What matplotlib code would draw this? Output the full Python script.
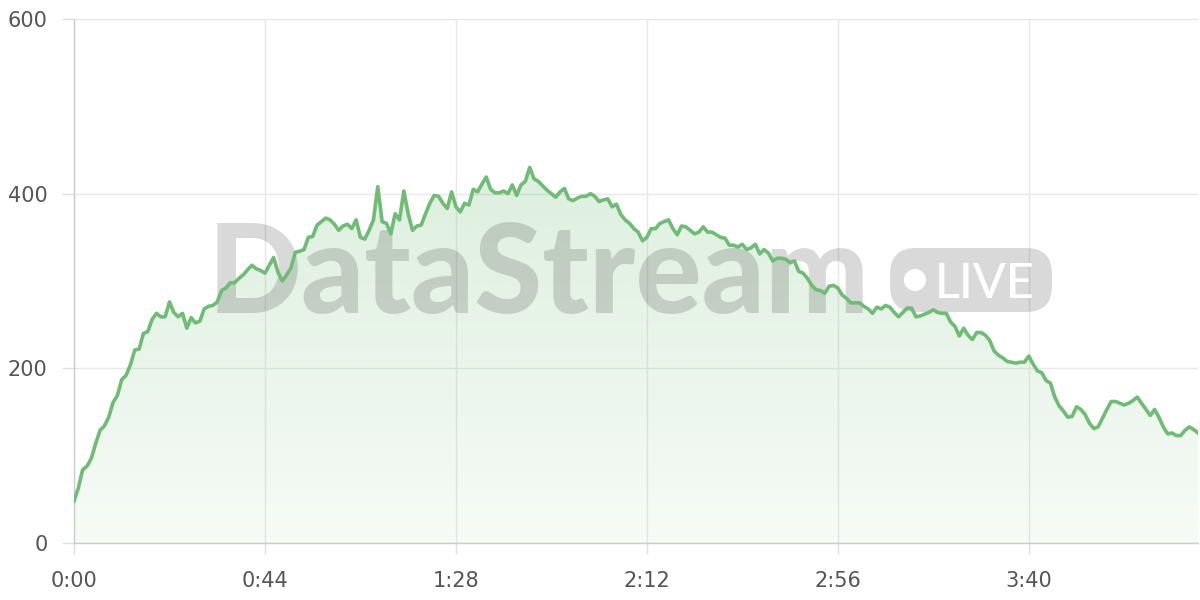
import numpy as np
import matplotlib
matplotlib.use("Agg")
import matplotlib.pyplot as plt
from matplotlib.patches import FancyBboxPatch, Circle
from matplotlib.transforms import IdentityTransform
from matplotlib.colors import to_rgb

# ---- data (one value per second) ----
seconds = list(range(260))
viewers = [
    48, 63, 84, 88, 97, 114, 129, 134, 144, 161,
    169, 187, 192, 204, 221, 222, 240, 242, 256, 263,
    259, 259, 276, 264, 259, 263, 246, 258, 252, 254,
    268, 271, 272, 276, 289, 292, 298, 298, 303, 307,
    313, 318, 314, 312, 309, 318, 327, 310, 300, 307,
    315, 333, 334, 336, 350, 351, 364, 368, 372, 370,
    365, 358, 363, 365, 360, 370, 350, 348, 358, 370,
    408, 368, 366, 354, 377, 370, 403, 377, 358, 363,
    364, 377, 389, 398, 397, 389, 383, 402, 385, 379,
    389, 387, 405, 402, 411, 419, 405, 401, 401, 403,
    400, 410, 398, 410, 414, 430, 417, 414, 409, 404,
    400, 396, 402, 406, 394, 392, 395, 397, 397, 400,
    397, 391, 393, 394, 385, 388, 376, 370, 366, 360,
    356, 346, 350, 360, 360, 366, 368, 370, 360, 353,
    363, 362, 358, 354, 356, 362, 356, 356, 353, 350,
    349, 341, 341, 339, 342, 336, 338, 342, 331, 336,
    332, 323, 326, 326, 325, 321, 323, 311, 309, 303,
    295, 290, 289, 286, 294, 295, 292, 284, 280, 275,
    275, 275, 271, 268, 263, 270, 268, 272, 270, 264,
    259, 264, 269, 269, 259, 260, 262, 264, 267, 264,
    263, 263, 253, 248, 237, 246, 238, 233, 241, 241,
    238, 232, 220, 215, 212, 208, 207, 206, 207, 207,
    214, 205, 197, 195, 186, 183, 167, 157, 151, 144,
    145, 156, 153, 147, 137, 131, 133, 143, 153, 162,
    162, 160, 158, 160, 163, 167, 160, 153, 146, 153,
    144, 133, 125, 126, 123, 123, 129, 133, 130, 126,
]
x_tick_seconds = [0, 44, 88, 132, 176, 220]
x_tick_labels = ["0:00", "0:44", "1:28", "2:12", "2:56", "3:40"]
y_ticks = [0, 200, 400, 600]

LINE = "#6fbc75"
W, H = 1200, 600

fig = plt.figure(figsize=(12, 6), dpi=100)
ax = fig.add_axes([74 / W, 57 / H, 1124 / W, 524 / H])

x = np.array(seconds)
y = np.array(viewers)

# gradient area fill
poly = ax.fill_between(x, y, 0, facecolor="none", lw=0)
n = 256
rgba = np.zeros((n, 1, 4))
rgba[..., :3] = to_rgb(LINE)
rgba[..., 3] = np.linspace(0.06, 0.24, n).reshape(-1, 1)
im = ax.imshow(rgba, extent=[x.min(), x.max(), 0, y.max()], origin="lower",
               aspect="auto", interpolation="bilinear", zorder=1)
im.set_clip_path(poly.get_paths()[0], transform=ax.transData)

ax.plot(x, y, color=LINE, lw=2.6, zorder=5, solid_joinstyle="round")

ax.set_xlim(0, 259)
ax.set_ylim(0, 600)
ax.set_xticks(x_tick_seconds)
ax.set_xticklabels(x_tick_labels)
ax.set_yticks(y_ticks)

ax.grid(True, color="#e8e8e8", lw=1)
ax.set_axisbelow(True)
for s in ("top", "right"):
    ax.spines[s].set_visible(False)
for s in ("left", "bottom"):
    ax.spines[s].set_color("#cccccc")
    ax.spines[s].set_linewidth(1)
ax.tick_params(axis="x", length=8, width=1, color="#e0e0e0", pad=12,
               labelsize=15, labelcolor="#555555")
ax.tick_params(axis="y", length=9, width=1, color="#e0e0e0", pad=10,
               labelsize=15, labelcolor="#555555")

# watermark
wm = (0, 0, 0, 0.15)
ax.text(539, H - 313, "DataStream", transform=IdentityTransform(),
        fontsize=89, fontweight="black", family=["Lato", "DejaVu Sans"],
        color=wm, ha="center", va="baseline", zorder=3)
badge = FancyBboxPatch((890, H - 312), 162, 64,
                       boxstyle="round,pad=0,rounding_size=26",
                       transform=IdentityTransform(), facecolor=wm,
                       edgecolor="none", zorder=3, clip_on=False)
ax.add_patch(badge)
ax.add_patch(Circle((915, H - 280), 11, transform=IdentityTransform(),
                    facecolor="white", edgecolor="none", zorder=3, clip_on=False))
ax.text(935, H - 298, "LIVE", transform=IdentityTransform(),
        fontsize=35, fontweight="medium", family=["Lato", "DejaVu Sans"],
        color="white", ha="left", va="baseline", zorder=3)

fig.savefig("out.png", dpi=100)
